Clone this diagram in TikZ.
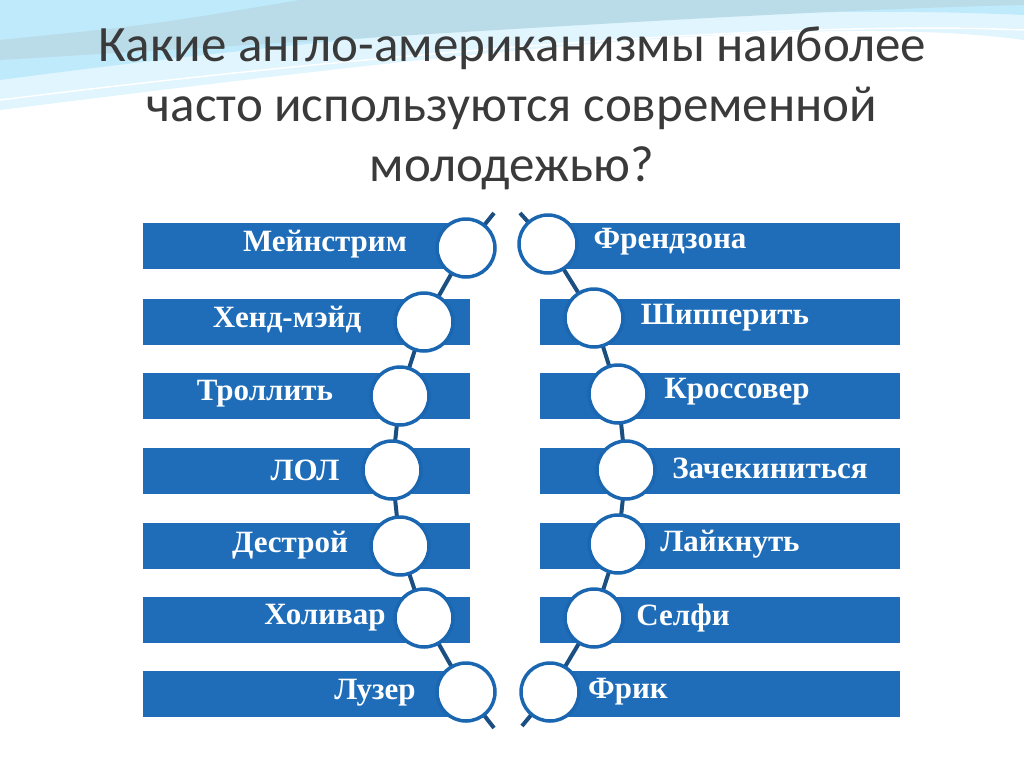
\documentclass[tikz,border=0pt]{standalone}
\usepackage{fontspec}
\setmainfont{Liberation Serif}
\newfontfamily\titlefont{Carlito}
\usetikzlibrary{backgrounds}
\definecolor{barblue}{HTML}{1F6DB8}
\definecolor{ringblue}{HTML}{1A66B0}
\definecolor{chainblue}{HTML}{1B4F82}
\definecolor{titlegray}{HTML}{3A3A3A}
\pgfdeclarelayer{back}
\pgfdeclarelayer{mid}
\pgfsetlayers{back,mid,main}
\tikzset{
  bar/.style={fill=barblue,draw=none},
  ring/.style={circle,draw=ringblue,line width=3.5pt,fill=white,minimum size=58pt,inner sep=0pt},
  word/.style={text=white,font=\fontsize{31}{33}\selectfont\bfseries},
  chain/.style={draw=chainblue,line width=4pt},
  ttl/.style={text=titlegray,font=\titlefont\fontsize{51}{60}\selectfont,align=center}
}
\begin{document}
\begin{tikzpicture}[x=1pt,y=-1pt]
\useasboundingbox (0,0) rectangle (1024,768);
\begin{pgfonlayer}{back}
\fill[white] (0,0) rectangle (1024,768);
\fill[cyan!12] (0,0) -- (1024,0) -- (1024,40) .. controls (800,10) and (400,60) .. (0,110) -- cycle;
\fill[cyan!25] (0,0) -- (1024,0) -- (1024,15) .. controls (700,0) and (300,40) .. (0,80) -- cycle;
\fill[cyan!40!teal!30] (300,0) -- (1024,0) -- (1024,5) .. controls (800,10) and (500,30) .. (0,60) -- (0,40) .. controls (150,25) .. (300,0) -- cycle;
\draw[white,line width=1.5pt] (0,100) .. controls (400,50) and (800,20) .. (1024,30);
\fill[white] (125,205) rectangle (925,745);
\end{pgfonlayer}
\node[ttl] (title) at (512,108) {Какие англо-американизмы наиболее\\часто используются современной\\молодежью?};
\begin{pgfonlayer}{mid}
\foreach \y in {246,322,396,471,546,620,694}{
  \fill[bar] (143,\y-23) rectangle (470,\y+23);
  \fill[bar] (540,\y-23) rectangle (900,\y+23);
}
\end{pgfonlayer}
\node[word] (w1) at (325,244) {Мейнстрим};
\node[word] (w2) at (287,320) {Хенд-мэйд};
\node[word] (w3) at (265,394) {Троллить};
\node[word] (w4) at (305,470) {ЛОЛ};
\node[word] (w5) at (290,545) {Дестрой};
\node[word] (w6) at (325,618) {Холивар};
\node[word] (w7) at (375,693) {Лузер};
\node[word] (v1) at (670,242) {Френдзона};
\node[word] (v2) at (725,318) {Шипперить};
\node[word] (v3) at (737,392) {Кроссовер};
\node[word] (v4) at (770,468) {Зачекиниться};
\node[word] (v5) at (730,544) {Лайкнуть};
\node[word] (v6) at (683,618) {Селфи};
\node[word] (v7) at (628,692) {Фрик};
\node[ring] (l1) at (466,248) {};
\node[ring] (l2) at (424,322) {};
\node[ring] (l3) at (400,396) {};
\node[ring] (l4) at (392,470) {};
\node[ring] (l5) at (400,546) {};
\node[ring] (l6) at (424,618) {};
\node[ring] (l7) at (466,692) {};
\node[ring] (r1) at (548,244) {};
\node[ring] (r2) at (594,318) {};
\node[ring] (r3) at (618,394) {};
\node[ring] (r4) at (626,470) {};
\node[ring] (r5) at (618,544) {};
\node[ring] (r6) at (594,618) {};
\node[ring] (r7) at (550,692) {};
\coordinate (lt) at (494,213);
\coordinate (lb) at (494,728);
\coordinate (rt) at (520,213);
\coordinate (rb) at (522,726);
\begin{pgfonlayer}{mid}
\draw[chain] (lt) -- (l1.center) -- (l2.center) -- (l3.center) -- (l4.center) -- (l5.center) -- (l6.center) -- (l7.center) -- (lb);
\draw[chain] (rt) -- (r1.center) -- (r2.center) -- (r3.center) -- (r4.center) -- (r5.center) -- (r6.center) -- (r7.center) -- (rb);
\end{pgfonlayer}
\end{tikzpicture}
\end{document}
